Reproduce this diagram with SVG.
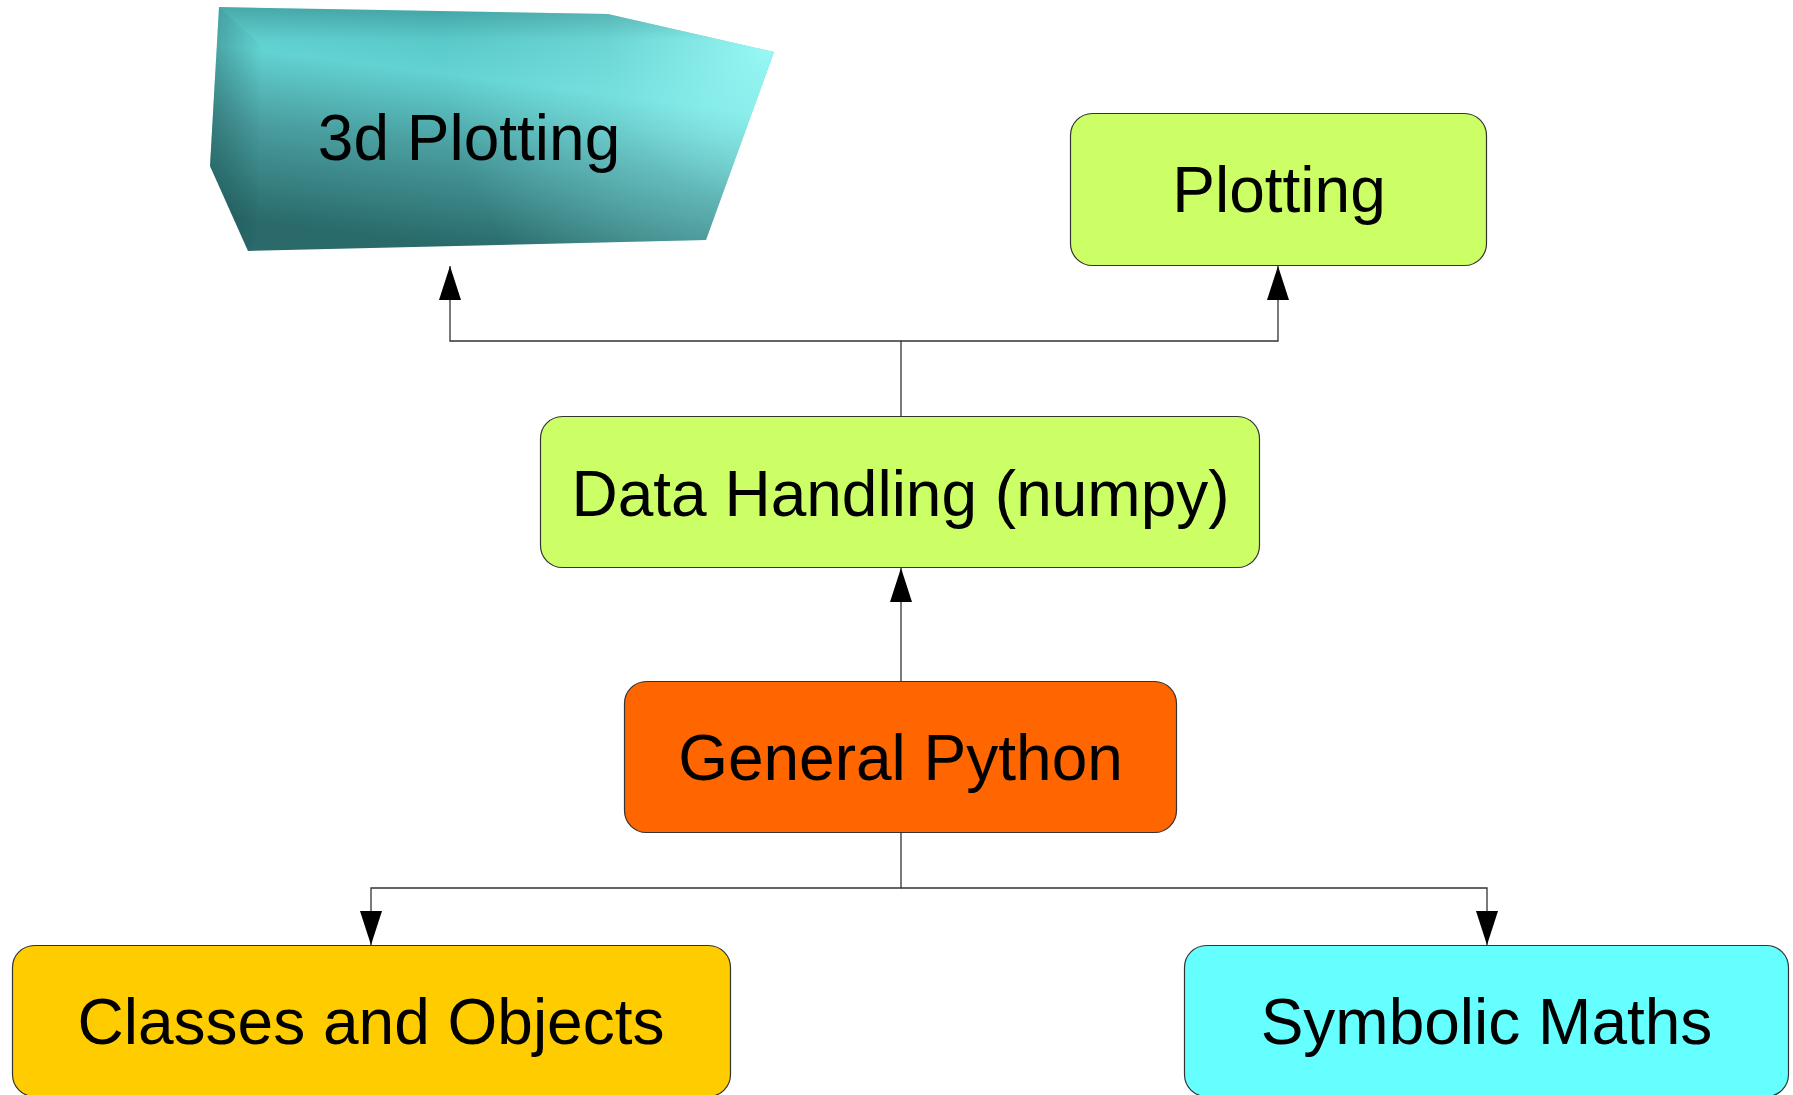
<svg xmlns="http://www.w3.org/2000/svg" width="1793" height="1095" viewBox="0 0 1793 1095">
  <style>
    .box { stroke: #333333; stroke-width: 1.2; }
    .lbl { font-family: "Liberation Sans", Arial, sans-serif; font-size: 64px; fill: #000000; text-anchor: middle; }
    .conn { fill: none; stroke: #333333; stroke-width: 1.3; }
  </style>
  <defs>
    <marker id="arrow" markerUnits="userSpaceOnUse" markerWidth="34" markerHeight="22" refX="34" refY="11" orient="auto">
      <path d="M0,0 L34,11 L0,22 Z" fill="#000000"/>
    </marker>
    <linearGradient id="g3d" gradientUnits="userSpaceOnUse" x1="520" y1="10" x2="490" y2="250">
      <stop offset="0" stop-color="#4fbdbd"/>
      <stop offset="0.3" stop-color="#63d2d2"/>
      <stop offset="0.6" stop-color="#4a9e9f"/>
      <stop offset="1" stop-color="#2a6a6b"/>
    </linearGradient>
    <radialGradient id="gHi" gradientUnits="userSpaceOnUse" cx="770" cy="45" r="330">
      <stop offset="0" stop-color="#a0fffb" stop-opacity="0.9"/>
      <stop offset="0.5" stop-color="#a0fffb" stop-opacity="0.3"/>
      <stop offset="1" stop-color="#a0fffb" stop-opacity="0"/>
    </radialGradient>
    <linearGradient id="gLeft" gradientUnits="userSpaceOnUse" x1="212" y1="0" x2="262" y2="0">
      <stop offset="0" stop-color="#0a3535" stop-opacity="0.3"/>
      <stop offset="1" stop-color="#0a3535" stop-opacity="0"/>
    </linearGradient>
    <linearGradient id="gTop" gradientUnits="userSpaceOnUse" x1="0" y1="8" x2="0" y2="40">
      <stop offset="0" stop-color="#0a3535" stop-opacity="0.2"/>
      <stop offset="1" stop-color="#0a3535" stop-opacity="0"/>
    </linearGradient>
  </defs>

  <g id="connectors">
    <path class="conn" d="M901,416 V341 H450 V266" marker-end="url(#arrow)"/>
    <path class="conn" d="M901,341 H1278 V266" marker-end="url(#arrow)"/>
    <path class="conn" d="M901,681 V568" marker-end="url(#arrow)"/>
    <path class="conn" d="M901,832 V888 H371 V945" marker-end="url(#arrow)"/>
    <path class="conn" d="M901,888 H1487 V945" marker-end="url(#arrow)"/>
  </g>

  <g id="node-3d-plotting">
    <polygon points="219,7 608,14 774,52 706,240 248,251 210,166" fill="url(#g3d)"/>
    <polygon points="219,7 608,14 774,52 706,240 248,251 210,166" fill="url(#gHi)"/>
    <polygon points="219,7 262,46 256,240 248,251 210,166" fill="url(#gLeft)"/>
    <polygon points="219,7 608,14 774,52 740,60 262,46" fill="url(#gTop)"/>
    <text class="lbl" x="469" y="160">3d Plotting</text>
  </g>

  <g id="node-plotting">
    <rect class="box" x="1070.5" y="113.5" width="416" height="152" rx="22" ry="22" fill="#ccff66"/>
    <text class="lbl" x="1279" y="212">Plotting</text>
  </g>

  <g id="node-data-handling">
    <rect class="box" x="540.5" y="416.5" width="719" height="151" rx="22" ry="22" fill="#ccff66"/>
    <text class="lbl" x="900.5" y="516">Data Handling (numpy)</text>
  </g>

  <g id="node-general-python">
    <rect class="box" x="624.5" y="681.5" width="552" height="151" rx="22" ry="22" fill="#ff6600"/>
    <text class="lbl" x="900.5" y="780">General Python</text>
  </g>

  <g id="node-classes-objects">
    <rect class="box" x="12.5" y="945.5" width="718" height="151" rx="22" ry="22" fill="#ffcc00"/>
    <text class="lbl" x="371" y="1044">Classes and Objects</text>
  </g>

  <g id="node-symbolic-maths">
    <rect class="box" x="1184.5" y="945.5" width="604" height="151" rx="22" ry="22" fill="#66ffff"/>
    <text class="lbl" x="1486.5" y="1044">Symbolic Maths</text>
  </g>
</svg>
